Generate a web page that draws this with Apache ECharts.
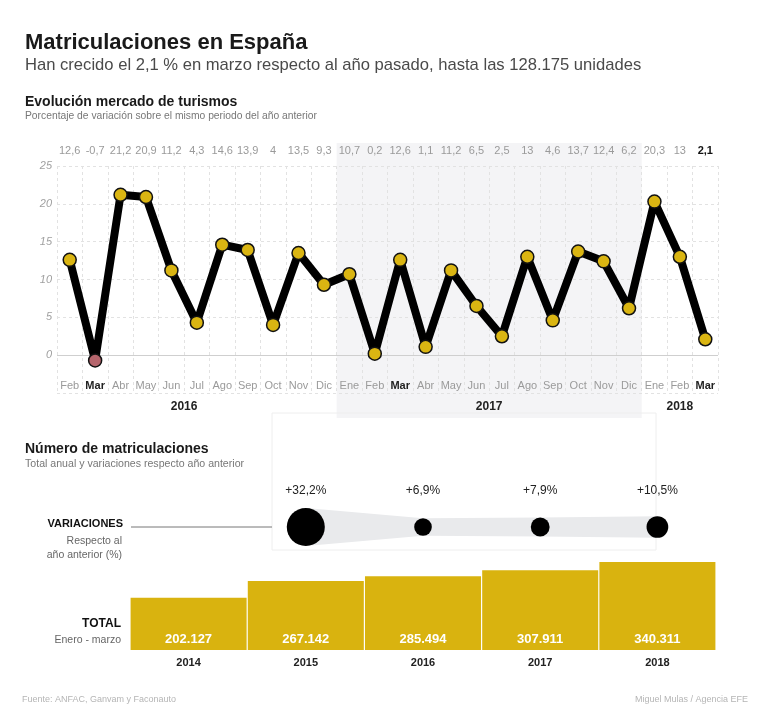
<!DOCTYPE html>
<html>
<head>
<meta charset="utf-8">
<script src="https://cdn.jsdelivr.net/npm/echarts@6/dist/echarts.min.js"></script>
<style>
html,body{margin:0;padding:0;background:#fff;}
#c{width:770px;height:715px;}
</style>
</head>
<body>
<div id="c"></div>
<script>
// ---- DATA ----
const months = ['Feb','Mar','Abr','May','Jun','Jul','Ago','Sep','Oct','Nov','Dic',
                'Ene','Feb','Mar','Abr','May','Jun','Jul','Ago','Sep','Oct','Nov','Dic',
                'Ene','Feb','Mar'];
const variation = [12.6,-0.7,21.2,20.9,11.2,4.3,14.6,13.9,4,13.5,9.3,
                   10.7,0.2,12.6,1.1,11.2,6.5,2.5,13,4.6,13.7,12.4,6.2,
                   20.3,13,2.1];
const periodYears = ['2016','2017','2018'];
const yTicks = [0,5,10,15,20,25];
const years = ['2014','2015','2016','2017','2018'];
const totals = [202127,267142,285494,307911,340311];
const yearVariation = [null,32.2,6.9,7.9,10.5];

// ---- helpers ----
const SANS = "'Liberation Sans',Arial,sans-serif";
const comma = v => String(v).replace('.', ',');
const thousands = v => String(v).replace(/\B(?=(\d{3})+(?!\d))/g, '.');
const bubbleSize = v => 6.7 * Math.sqrt(v);

const chart = echarts.init(document.getElementById('c'), null, {renderer:'canvas'});

const lastIdx = variation.length - 1;

// segments between consecutive bubbles: [fromIndex, toIndex]
const segments = [];
yearVariation.forEach((v, i) => {
  if (v != null && i + 1 < yearVariation.length && yearVariation[i + 1] != null) segments.push([i, i + 1]);
});

const option = {
  animation: false,
  backgroundColor: '#fff',
  grid: [
    {left: 57, right: 52, top: 166, height: 227},
    {left: 130, right: 54, top: 507, height: 40},
    {left: 130, right: 54, top: 560, height: 90}
  ],
  xAxis: [
    {
      type: 'category', gridIndex: 0, data: months, position: 'bottom',
      boundaryGap: true,
      axisLine: {show: false}, axisTick: {show: false},
      axisLabel: {
        inside: true, margin: 2, fontFamily: SANS, fontSize: 11, color: '#9a9a9a',
        interval: 0,
        formatter: (v, i) => v === 'Mar' ? '{b|' + v + '}' : v,
        rich: {b: {fontFamily: SANS, fontSize: 11, fontWeight: 'bold', color: '#222'}}
      },
      splitLine: {show: true, interval: 0, lineStyle: {color: '#e2e2e2', type: [3,3], width: 1}}
    },
    {
      type: 'category', gridIndex: 0, data: variation.map(comma), position: 'top',
      boundaryGap: true,
      axisLine: {show: false}, axisTick: {show: false},
      axisLabel: {
        margin: 10, fontFamily: SANS, fontSize: 11, color: '#9a9a9a', interval: 0,
        formatter: (v, i) => i === lastIdx ? '{b|' + v + '}' : v,
        rich: {b: {fontFamily: SANS, fontSize: 11, fontWeight: 'bold', color: '#111'}}
      },
      splitLine: {show: false}
    },
    {type: 'category', gridIndex: 1, data: years, show: false},
    {
      type: 'category', gridIndex: 2, data: years,
      axisLine: {show: false}, axisTick: {show: false},
      axisLabel: {margin: 7, fontFamily: SANS, fontSize: 11, fontWeight: 'bold', color: '#222'}
    }
  ],
  yAxis: [
    {
      type: 'value', gridIndex: 0, min: -5, max: 25, interval: 5,
      axisLine: {show: false}, axisTick: {show: false},
      axisLabel: {
        margin: 5, fontFamily: SANS, fontSize: 11, fontStyle: 'italic', color: '#a0a0a0',
        formatter: v => yTicks.indexOf(v) >= 0 ? String(v) : ''
      },
      splitLine: {show: true, lineStyle: {color: '#e2e2e2', type: [3,3], width: 1}}
    },
    {type: 'value', gridIndex: 1, min: 0, max: 2, show: false},
    {type: 'value', gridIndex: 2, min: 0, max: 348000, show: false}
  ],
  series: [
    {
      type: 'line', xAxisIndex: 0, yAxisIndex: 0,
      data: variation.map((v, i) => i === 1
        ? {value: v, itemStyle: {color: '#b5656c'}}
        : v),
      z: 5,
      lineStyle: {color: '#000', width: 8, join: 'round', cap: 'round'},
      symbol: 'circle', symbolSize: 13, showAllSymbol: true,
      itemStyle: {color: '#dab512', borderColor: '#111', borderWidth: 1.5},
      emphasis: {disabled: true},
      markLine: {
        silent: true, symbol: 'none', label: {show: false},
        lineStyle: {color: '#cfcfcf', type: 'solid', width: 1},
        data: [{yAxis: 0}]
      }
    },
    {
      type: 'custom', xAxisIndex: 2, yAxisIndex: 1, z: 1, silent: true,
      data: segments,
      encode: {x: [0, 1]},
      renderItem: (params, api) => {
        const a = api.value(0), b = api.value(1);
        const p1 = api.coord([a, 1]), p2 = api.coord([b, 1]);
        const r1 = bubbleSize(yearVariation[a]) / 2, r2 = bubbleSize(yearVariation[b]) / 2;
        return {
          type: 'polygon',
          shape: {points: [[p1[0], p1[1] - r1], [p2[0], p2[1] - r2], [p2[0], p2[1] + r2], [p1[0], p1[1] + r1]]},
          style: {fill: '#e9eaec'}
        };
      }
    },
    {
      type: 'scatter', xAxisIndex: 2, yAxisIndex: 1, z: 3,
      data: yearVariation.map((v, i) => v == null ? null : [i, 1, v]).filter(d => d),
      symbol: 'circle',
      symbolSize: d => bubbleSize(d[2]),
      itemStyle: {color: '#000', opacity: 1},
      label: {
        show: true, position: 'inside', offset: [0, -36],
        formatter: p => '+' + comma(p.value[2]) + '%',
        fontFamily: SANS, fontSize: 12, color: '#222'
      },
      emphasis: {disabled: true}
    },
    {
      type: 'bar', xAxisIndex: 3, yAxisIndex: 2, data: totals,
      barCategoryGap: '1%',
      itemStyle: {color: '#d9b30f'},
      label: {
        show: true, position: 'insideBottom', distance: 4,
        formatter: p => thousands(p.value),
        fontFamily: SANS, fontSize: 13, fontWeight: 'bold', color: '#fff'
      },
      emphasis: {disabled: true}
    }
  ]
};
chart.setOption(option);

// annotation graphics located through the axes
const px = idx => chart.convertToPixel({xAxisIndex: 0}, idx);
const half = (px(1) - px(0)) / 2;
const eneIdx = months.map((m, i) => m === 'Ene' ? i : -1).filter(i => i >= 0);
const spans = [[eneIdx[0] - 12, eneIdx[0] - 1], [eneIdx[0], eneIdx[1] - 1], [eneIdx[1], months.length - 1]];
const shade = spans[1];
const gfx = [
  {type: 'rect', z: -10, shape: {x: px(shade[0]) - half, y: 143, width: px(shade[1]) - px(shade[0]) + 2 * half, height: 275},
   style: {fill: '#f4f4f6'}},
  {type: 'rect', z: -9, shape: {x: 272, y: 413, width: 384, height: 137},
   style: {fill: 'rgba(255,255,255,0)', stroke: '#eeeeee', lineWidth: 1}},
  {type: 'text', left: 25, top: 32, style: {text: 'Matriculaciones en España', font: "bold 22px " + SANS, fill: '#1a1a1a'}},
  {type: 'text', left: 25, top: 57, style: {text: 'Han crecido el 2,1 % en marzo respecto al año pasado, hasta las 128.175 unidades', font: "16.6px " + SANS, fill: '#4a4a4a'}},
  {type: 'text', left: 25, top: 95, style: {text: 'Evolución mercado de turismos', font: "bold 14px " + SANS, fill: '#1a1a1a'}},
  {type: 'text', left: 25, top: 111, style: {text: 'Porcentaje de variación sobre el mismo periodo del año anterior', font: "10.3px " + SANS, fill: '#777'}},
  {type: 'text', left: 25, top: 442, style: {text: 'Número de matriculaciones', font: "bold 14px " + SANS, fill: '#1a1a1a'}},
  {type: 'text', left: 25, top: 459, style: {text: 'Total anual y variaciones respecto año anterior', font: "10.6px " + SANS, fill: '#777'}},
  {type: 'text', x: 123, y: 524, style: {text: 'VARIACIONES', font: "bold 11px " + SANS, fill: '#111', align: 'right', verticalAlign: 'middle'}},
  {type: 'line', shape: {x1: 131, y1: 527, x2: 272, y2: 527}, style: {stroke: '#777', lineWidth: 1}},
  {type: 'text', x: 122, y: 541, style: {text: 'Respecto al', font: "10.5px " + SANS, fill: '#666', align: 'right', verticalAlign: 'middle'}},
  {type: 'text', x: 122, y: 555, style: {text: 'año anterior (%)', font: "10.5px " + SANS, fill: '#666', align: 'right', verticalAlign: 'middle'}},
  {type: 'text', x: 121, y: 624, style: {text: 'TOTAL', font: "bold 12px " + SANS, fill: '#111', align: 'right', verticalAlign: 'middle'}},
  {type: 'text', x: 121, y: 640, style: {text: 'Enero - marzo', font: "10.5px " + SANS, fill: '#666', align: 'right', verticalAlign: 'middle'}},
  {type: 'text', left: 22, top: 695, style: {text: 'Fuente: ANFAC, Ganvam y Faconauto', font: "9px " + SANS, fill: '#b5b5b5'}},
  {type: 'text', right: 22, top: 695, style: {text: 'Miguel Mulas / Agencia EFE', font: "9px " + SANS, fill: '#b5b5b5'}}
];
periodYears.forEach((y, k) => {
  const s = spans[k];
  gfx.push({type: 'text', x: (px(s[0]) + px(s[1])) / 2, y: 407,
    style: {text: y, font: "bold 12px " + SANS, fill: '#222', align: 'center', verticalAlign: 'middle'}});
});
chart.setOption({graphic: gfx});
</script>
</body>
</html>
